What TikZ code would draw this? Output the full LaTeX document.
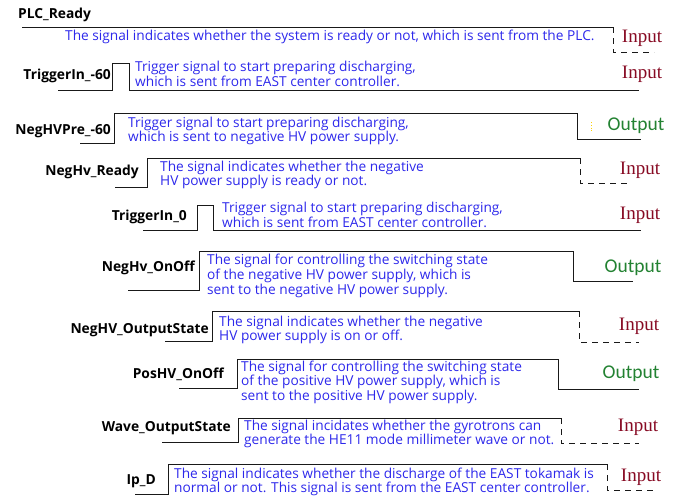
\documentclass[tikz,border=0pt]{standalone}
\usepackage{tikz}
\usepackage{xcolor}
\usepackage{fontspec}
\setmainfont{Open Sans}
\newfontfamily\inputfont{Liberation Serif}
\newfontfamily\outputfont{Carlito}
\definecolor{descblue}{RGB}{45,40,235}
\definecolor{indark}{RGB}{135,10,35}
\definecolor{outgreen}{RGB}{35,130,50}

\begin{document}
\begin{tikzpicture}[x=1pt,y=-1pt]
    \tikzstyle{signame}=[font=\fontsize{13.8}{15}\selectfont\bfseries,inner sep=0pt,anchor=east]
    \tikzstyle{sigdesc}=[font=\fontsize{13.7}{14.6}\selectfont,text=descblue,inner sep=0pt,anchor=west,align=left]
    \tikzstyle{inlabel}=[font=\inputfont\fontsize{19}{20}\selectfont,text=indark,inner sep=0pt]
    \tikzstyle{outlabel}=[font=\outputfont\fontsize{19.5}{20}\selectfont,text=outgreen,inner sep=0pt]
    \tikzstyle{wave}=[line width=1pt,black!90]
    \tikzstyle{wavedash}=[line width=1pt,black!90,dash pattern=on 6pt off 5pt]

    \useasboundingbox (0,0) rectangle (688,498);

    % PLC_Ready
    \node [signame,anchor=west] (plc) at (18,15) {PLC\_Ready};
    \draw [wave] (22,27) -- (613,27);
    \draw [wavedash] (613,27) -- (613,52) -- (654,52);
    \node [sigdesc] (plcdesc) at (65,37) {The signal indicates whether the system is ready or not, which is sent from the PLC.};
    \node [inlabel] (plcio) at (642,38) {Input};

    % TriggerIn_-60
    \node [signame] (trigA) at (111,76) {TriggerIn\_-60};
    \draw [wave] (58,90) -- (112,90) -- (112,63) -- (129,63) -- (129,90) -- (639,90);
    \node [sigdesc] (trigAdesc) at (135,74) {Trigger signal to start preparing discharging,\\which is sent from EAST center controller.};
    \node [inlabel] (trigAio) at (642,74) {Input};

    % NegHVPre_-60
    \node [signame] (negpre) at (111,131) {NegHVPre\_-60};
    \draw [wave] (80,143) -- (114,143) -- (114,113) -- (577,113) -- (577,139) -- (641,139);
    \draw [yellow!70!orange,dotted,line width=0.8pt] (591,122) -- (591,132);
    \node [sigdesc] (negpredesc) at (128,131) {Trigger signal to start preparing discharging,\\which is sent to negative HV power supply.};
    \node [outlabel] (negpreio) at (636,126) {Output};

    % NegHv_Ready
    \node [signame] (negrdy) at (139,172) {NegHv\_Ready};
    \draw [wave] (115,187) -- (147,187) -- (147,158) -- (580,158);
    \draw [wavedash] (580,158) -- (580,183) -- (631,183);
    \node [sigdesc] (negrdydesc) at (160,175) {The signal indicates whether the negative\\HV power supply is ready or not.};
    \node [inlabel] (negrdyio) at (640,170) {Input};

    % TriggerIn_0
    \node [signame] (trigB) at (187,217) {TriggerIn\_0};
    \draw [wave] (143,230) -- (197,230) -- (197,205) -- (213,205) -- (213,230) -- (641,230);
    \node [sigdesc] (trigBdesc) at (222,215) {Trigger signal to start preparing discharging,\\which is sent from EAST center controller.};
    \node [inlabel] (trigBio) at (640,215) {Input};

    % NegHv_OnOff
    \node [signame] (negonoff) at (195,268) {NegHv\_OnOff};
    \draw [wave] (128,290) -- (199,290) -- (199,251) -- (573,251) -- (573,281) -- (633,281);
    \node [sigdesc] (negonoffdesc) at (207,276) {The signal for controlling the switching state\\of the negative HV power supply, which is\\sent to the negative HV power supply.};
    \node [outlabel] (negonoffio) at (633,268) {Output};

    % NegHV_OutputState
    \node [signame] (negstate) at (209,330) {NegHV\_OutputState};
    \draw [wave] (165,341) -- (212,341) -- (212,311) -- (579,311);
    \draw [wavedash] (579,311) -- (579,342) -- (639,342);
    \node [sigdesc] (negstatedesc) at (219,330) {The signal indicates whether the negative\\HV power supply is on or off.};
    \node [inlabel] (negstateio) at (639,326) {Input};

    % PosHV_OnOff
    \node [signame] (posonoff) at (224,374) {PosHV\_OnOff};
    \draw [wave] (179,388) -- (237,388) -- (237,359) -- (558,359) -- (558,389) -- (639,389);
    \node [sigdesc] (posonoffdesc) at (241,382) {The signal for controlling the switching state\\of the positive HV power supply, which is\\sent to the positive HV power supply.};
    \node [outlabel] (posonoffio) at (631,374) {Output};

    % Wave_OutputState
    \node [signame] (wavestate) at (231,428) {Wave\_OutputState};
    \draw [wave] (162,442) -- (238,442) -- (238,418) -- (561,418);
    \draw [wavedash] (561,418) -- (561,443) -- (639,443);
    \node [sigdesc] (wavestatedesc) at (244,434) {The signal incidates whether the gyrotrons can\\generate the HE11 mode millimeter wave or not.};
    \node [inlabel] (wavestateio) at (638,427) {Input};

    % Ip_D
    \node [signame] (ipd) at (156,481) {Ip\_D};
    \draw [wave] (135,494) -- (168,494) -- (168,464) -- (607,464);
    \draw [wavedash] (607,464) -- (607,490) -- (656,490);
    \node [sigdesc] (ipddesc) at (174,482) {The signal indicates whether the discharge of the EAST tokamak is\\normal or not. This signal is sent from the EAST center controller.};
    \node [inlabel] (ipdio) at (641,477) {Input};
\end{tikzpicture}
\end{document}
